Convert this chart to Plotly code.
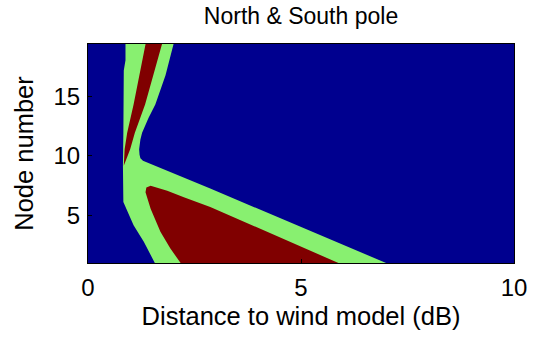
import plotly.graph_objects as go

# Region boundaries: distance to wind model (dB) as a function of node number
# Green band, left edge (top to bottom)
green_left_node = [19.6, 18.06, 17.2, 14.33, 11.97, 9.2, 6.12, 4.17, 2.78, 0.9]
green_left_x = [0.88, 0.88, 0.84, 0.84, 0.83, 0.82, 0.83, 1.07, 1.31, 1.58]

# Green band, right edge (bottom to top)
green_right_node = [0.9, 7.26, 9.43, 9.6, 9.8, 10.1, 10.56, 11.4, 11.95, 13.2, 14.33, 16.8, 19.6]
green_right_x = [7.05, 2.87, 1.39, 1.29, 1.23, 1.21, 1.20, 1.23, 1.27, 1.42, 1.58, 1.82, 2.02]

# Upper red wedge: left edge (top to tip) then right edge (tip to top)
red_up_node = [19.6, 14.33, 11.95, 10.56, 9.17, 10.56, 11.95, 14.33, 19.6]
red_up_x = [1.36, 1.07, 0.92, 0.86, 0.84, 0.99, 1.10, 1.34, 1.75]

# Lower red region: upper edge (tip to bottom) then left edge (bottom to tip)
red_low_node = [7.5, 7.08, 6.53, 5.7, 0.9, 0.9, 2.22, 3.62, 5.56, 6.95, 7.35, 7.5]
red_low_x = [1.47, 1.86, 2.25, 2.87, 5.93, 2.19, 1.93, 1.70, 1.47, 1.35, 1.37, 1.47]

x_ticks = [0, 5, 10]
y_ticks = [5, 10, 15]

BLUE = "#00008F"
GREEN = "#88F070"
RED = "#800000"

fig = go.Figure()

fig.add_trace(go.Scatter(
    x=green_left_x + green_right_x,
    y=green_left_node + green_right_node,
    mode="lines", fill="toself", fillcolor=GREEN,
    line=dict(width=0, color=GREEN), hoverinfo="skip", showlegend=False,
))
fig.add_trace(go.Scatter(
    x=red_up_x, y=red_up_node,
    mode="lines", fill="toself", fillcolor=RED,
    line=dict(width=0, color=RED), hoverinfo="skip", showlegend=False,
))
fig.add_trace(go.Scatter(
    x=red_low_x, y=red_low_node,
    mode="lines", fill="toself", fillcolor=RED,
    line=dict(width=0, color=RED), hoverinfo="skip", showlegend=False,
))

font_family = "Liberation Sans, Arial, Helvetica, sans-serif"

fig.update_layout(
    width=539, height=338,
    margin=dict(l=87.5, r=25, t=43.5, b=73),
    paper_bgcolor="white",
    plot_bgcolor=BLUE,
    font=dict(family=font_family, size=24, color="black"),
    title=dict(
        text="North & South pole",
        x=0.5, xref="paper", xanchor="center",
        y=1 - 15.5 / 338, yref="container", yanchor="middle",
        font=dict(size=23),
    ),
)

fig.update_xaxes(
    range=[0, 10], tickvals=x_ticks, ticktext=[str(v) for v in x_ticks],
    showgrid=False, zeroline=False,
    showline=True, linecolor="black", linewidth=1, mirror=True,
    ticks="inside", ticklen=4, tickcolor="black",
    ticklabelstandoff=3,
    title=dict(text="Distance to wind model (dB)", font=dict(size=25.5), standoff=7),
)
fig.update_yaxes(
    range=[0.98, 19.44], tickvals=y_ticks, ticktext=[str(v) for v in y_ticks],
    showgrid=False, zeroline=False,
    showline=True, linecolor="black", linewidth=1, mirror=True,
    ticks="inside", ticklen=4, tickcolor="black",
    ticklabelstandoff=2,
    title=dict(text="Node number", font=dict(size=25.5), standoff=12),
)

fig.write_html("out.html")
